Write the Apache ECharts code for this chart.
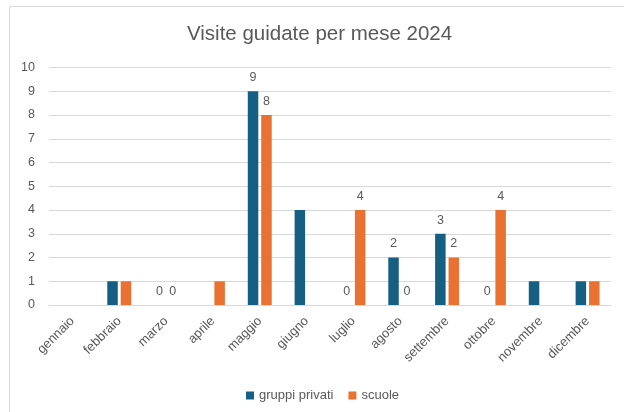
<!DOCTYPE html>
<html>
<head>
<meta charset="utf-8">
<script src="https://cdn.jsdelivr.net/npm/echarts@6/dist/echarts.min.js"></script>
<style>
  html, body { margin: 0; padding: 0; background: #fff; }
  #chart { width: 624px; height: 412px; }
</style>
</head>
<body>
<div id="chart"></div>
<script>
  const months = ["gennaio", "febbraio", "marzo", "aprile", "maggio", "giugno",
    "luglio", "agosto", "settembre", "ottobre", "novembre", "dicembre"];
  const privati = [null, 1, 0, null, 9, 4, 0, 2, 3, 0, 1, 1];
  const scuole = [null, 1, 0, 1, 8, null, 4, 0, 2, 4, null, 1];
  // months where Excel shows data labels
  const labelled = ["marzo", "maggio", "luglio", "agosto", "settembre", "ottobre"];
  const yTicks = [0, 10, 1];

  const font = "Liberation Sans, Arial, sans-serif";
  const grey = "#595959";

  function withLabels(values) {
    return values.map((v, i) => ({
      value: v,
      label: { show: v !== null && labelled.includes(months[i]) }
    }));
  }

  const chart = echarts.init(document.getElementById("chart"));
  chart.setOption({
    animation: false,
    textStyle: { fontFamily: font },
    color: ["#156082", "#E97132"],
    graphic: [
      { type: "rect", shape: { x: 9.5, y: 6.5, width: 700, height: 500 },
        style: { fill: "none", stroke: "#D9D9D9", lineWidth: 1 }, silent: true }
    ],
    title: {
      text: "Visite guidate per mese 2024",
      left: 182, top: 19,
      textStyle: { fontFamily: font, fontSize: 20.5, fontWeight: "normal", color: grey }
    },
    legend: {
      bottom: 5, left: 241,
      itemWidth: 8, itemHeight: 8, itemGap: 15,
      icon: "rect",
      textStyle: { fontFamily: font, fontSize: 13, color: grey }
    },
    grid: { left: 49, right: 13, top: 67.5, bottom: 107, containLabel: false },
    xAxis: {
      type: "category",
      data: months,
      axisLine: { lineStyle: { color: "#D9D9D9" } },
      axisTick: { show: false },
      axisLabel: { rotate: 45, color: grey, fontSize: 13, margin: 14, interval: 0 }
    },
    yAxis: {
      type: "value",
      min: yTicks[0], max: yTicks[1], interval: yTicks[2],
      axisLine: { show: false },
      axisTick: { show: false },
      splitLine: { lineStyle: { color: "#D9D9D9", width: 1 } },
      axisLabel: { color: grey, fontSize: 12.5, margin: 14 }
    },
    series: [
      {
        name: "gruppi privati", type: "bar", data: withLabels(privati),
        barWidth: 10.5, barGap: "28%",
        label: { position: "top", distance: 7, color: grey, fontSize: 12.5 }
      },
      {
        name: "scuole", type: "bar", data: withLabels(scuole),
        barWidth: 10.5, barGap: "28%",
        label: { position: "top", distance: 7, color: grey, fontSize: 12.5 }
      }
    ]
  });
</script>
</body>
</html>
